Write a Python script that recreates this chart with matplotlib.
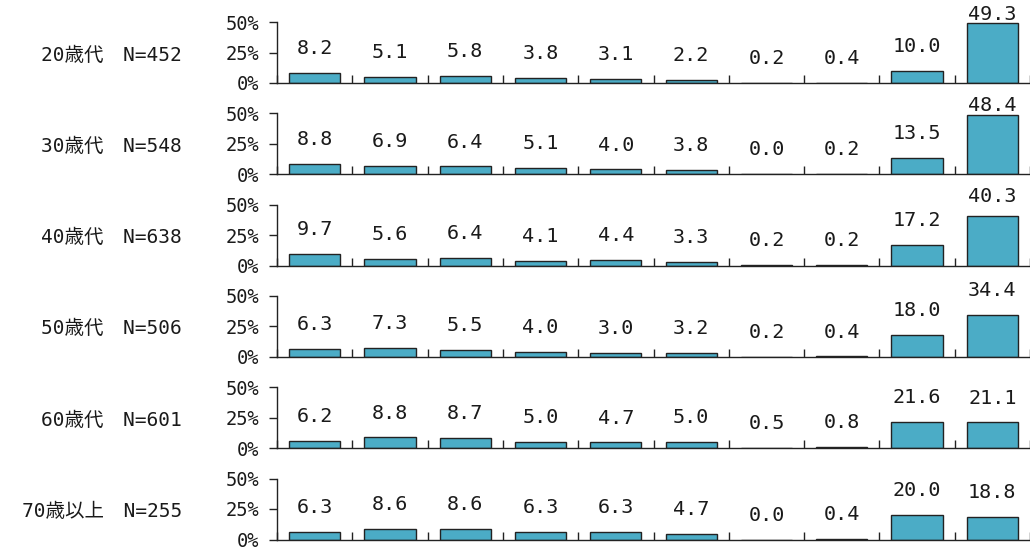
import matplotlib.pyplot as plt
import numpy as np

# 年代別の回答割合(%)
groups = ['20歳代', '30歳代', '40歳代', '50歳代', '60歳代', '70歳以上']
ns = [452, 548, 638, 506, 601, 255]
v20 = [8.2, 5.1, 5.8, 3.8, 3.1, 2.2, 0.2, 0.4, 10.0, 49.3]
v30 = [8.8, 6.9, 6.4, 5.1, 4.0, 3.8, 0.0, 0.2, 13.5, 48.4]
v40 = [9.7, 5.6, 6.4, 4.1, 4.4, 3.3, 0.2, 0.2, 17.2, 40.3]
v50 = [6.3, 7.3, 5.5, 4.0, 3.0, 3.2, 0.2, 0.4, 18.0, 34.4]
v60 = [6.2, 8.8, 8.7, 5.0, 4.7, 5.0, 0.5, 0.8, 21.6, 21.1]
v70 = [6.3, 8.6, 8.6, 6.3, 6.3, 4.7, 0.0, 0.4, 20.0, 18.8]
rows = [v20, v30, v40, v50, v60, v70]
yticks = [0, 25, 50]
ytick_labels = ['0%', '25%', '50%']

BAR = '#4BACC6'
TXT = '#1a1a1a'
W, H = 1030, 549

fig = plt.figure(figsize=(W / 100, H / 100), dpi=100)

for i, (g, n, vals) in enumerate(zip(groups, ns, rows)):
    bottom_px = 83 + 91.3 * i
    ax = fig.add_axes([277 / W, (H - bottom_px) / H, 753 / W, 61 / H])
    x = np.arange(len(vals))
    ax.bar(x, vals, width=0.68, color=BAR, edgecolor='#222222', linewidth=1.0)
    ax.set_xlim(-0.5, len(vals) - 0.5)
    ax.set_ylim(0, 50)

    for s in ['top', 'right']:
        ax.spines[s].set_visible(False)
    for s in ['left', 'bottom']:
        ax.spines[s].set_color('#222222')
        ax.spines[s].set_linewidth(1.0)

    ax.set_xticks([])
    ax.set_xticks(np.arange(-0.5, len(vals)), minor=True)
    ax.tick_params(axis='x', which='minor', direction='in', length=6, width=1, color='#222222')
    ax.set_yticks(yticks)
    ax.set_yticklabels(ytick_labels, family='DejaVu Sans Mono', fontsize=13.5, color=TXT)
    ax.tick_params(axis='y', direction='out', length=6, width=1, color='#222222', pad=7)

    # 値ラベル: 棒の少し上、上端はクリップ
    for xi, v in zip(x, vals):
        ax.text(xi, min(v + 20, 56.5), f'{v:.1f}', ha='center', va='center',
                family='DejaVu Sans Mono', fontsize=14.5, color=TXT, clip_on=False)

    ax.text(182 / W, (H - (bottom_px - 28)) / H, f'{g}\u3000N={n}', transform=fig.transFigure,
            ha='right', va='center', fontsize=14, color=TXT,
            family=['DejaVu Sans Mono', 'Noto Sans CJK JP'])

fig.savefig('out.png', dpi=100)
